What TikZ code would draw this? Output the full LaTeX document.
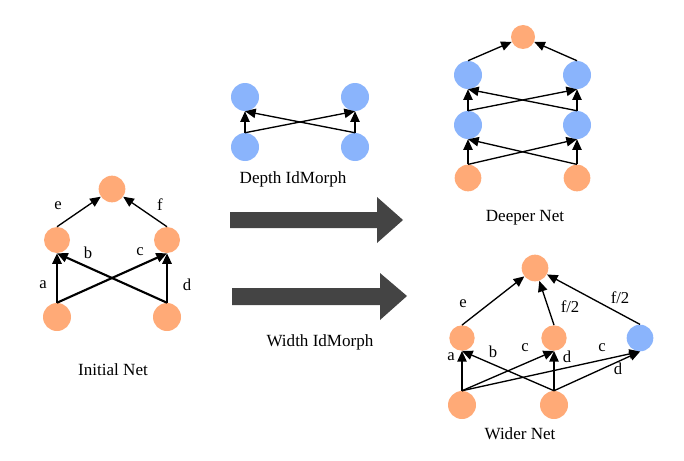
\documentclass[tikz,border=0pt]{standalone}
\usepackage{fontspec}
\setmainfont{Liberation Serif}
\usetikzlibrary{arrows.meta}
\definecolor{nodeor}{HTML}{FFAA77}
\definecolor{nodebl}{HTML}{8AB4FC}
\definecolor{bigarr}{HTML}{444444}
\tikzset{
  orn/.style={circle,fill=nodeor,inner sep=0pt,minimum size=#1},
  orn/.default=20pt,
  bln/.style={circle,fill=nodebl,inner sep=0pt,minimum size=#1},
  bln/.default=21pt,
  edge/.style={draw=black,line width=1pt,-{Triangle[length=8pt,width=7pt]}},
  bedge/.style={draw=black,line width=1.6pt,-{Triangle[length=8pt,width=7pt]}},
  lbl/.style={inner sep=0pt,font=\fontsize{12.5}{14}\selectfont},
  captext/.style={inner sep=0pt,font=\fontsize{12.8}{15}\selectfont},
  bigarrow/.style={fill=bigarr,draw=none}
}
\begin{document}
\begin{tikzpicture}[x=0.75pt,y=-0.75pt]
\useasboundingbox (0,0) rectangle (684,460);
% ---------- Initial Net ----------
\node[orn=20pt] (it) at (112,189) {};
\node[orn=19.5pt] (il) at (57,240) {};
\node[orn=19.5pt] (ir) at (167,240) {};
\node[orn=21pt] (ibl) at (57,317) {};
\node[orn=21pt] (ibr) at (167,317) {};
\draw[bedge] (ibl.north) -- (il.south);
\draw[bedge] (ibl.north) -- (ir.south);
\draw[bedge] (ibr.north) -- (ir.south);
\draw[bedge] (ibr.north) -- (il.south);
\draw[edge] (il.north) -- (it);
\draw[edge] (ir.north) -- (it);
\node[lbl] (la) at (43,285) {a};
\node[lbl] (lb) at (88,253) {b};
\node[lbl] (lc) at (140,252) {c};
\node[lbl] (ld) at (187,285) {d};
\node[lbl] (le) at (58,206) {e};
\node[lbl] (lf) at (160,205) {f};
\node[captext] (cinit) at (113,370) {Initial Net};
% ---------- Depth IdMorph ----------
\node[bln] (dtl) at (245,97) {};
\node[bln] (dtr) at (355,97) {};
\node[bln] (dbl) at (245,147) {};
\node[bln] (dbr) at (355,147) {};
\draw[edge] (dbl.north) -- (dtl.south);
\draw[edge] (dbl.north) -- (dtr.south);
\draw[edge] (dbr.north) -- (dtr.south);
\draw[edge] (dbr.north) -- (dtl.south);
\node[captext] (cdepth) at (293,179) {Depth IdMorph};
% ---------- Big arrows ----------
\path[bigarrow] (230,212) -- (377,212) -- (377,197) -- (403,220) -- (377,243) -- (377,228) -- (230,228) -- cycle;
\path[bigarrow] (232,288) -- (380,288) -- (380,273) -- (407,296) -- (380,320) -- (380,305) -- (232,305) -- cycle;
\node[captext] (cwidth) at (320,342) {Width IdMorph};
% ---------- Deeper Net ----------
\node[orn=18pt] (pt) at (523,37) {};
\node[bln] (p1l) at (468,75) {};
\node[bln] (p1r) at (577,75) {};
\node[bln] (p2l) at (468,125) {};
\node[bln] (p2r) at (577,125) {};
\node[orn] (pbl) at (468,178) {};
\node[orn] (pbr) at (577,178) {};
\draw[edge] (pbl.north) -- (p2l.south);
\draw[edge] (pbl.north) -- (p2r.south);
\draw[edge] (pbr.north) -- (p2r.south);
\draw[edge] (pbr.north) -- (p2l.south);
\draw[edge] (p2l.north) -- (p1l.south);
\draw[edge] (p2l.north) -- (p1r.south);
\draw[edge] (p2r.north) -- (p1r.south);
\draw[edge] (p2r.north) -- (p1l.south);
\draw[edge] (p1l.north) -- (pt);
\draw[edge] (p1r.north) -- (pt);
\node[captext] (cdeep) at (525,218) {Deeper Net};
% ---------- Wider Net ----------
\node[orn] (wt) at (535,268) {};
\node[orn=19pt] (wml) at (462,338) {};
\node[orn=19pt] (wmm) at (554,338) {};
\node[bln=20pt] (wmb) at (640,338) {};
\node[orn=21pt] (wbl) at (462,405) {};
\node[orn=21pt] (wbm) at (554,405) {};
\draw[edge] (wml.north) -- (wt);
\draw[edge] (wmm.north) -- (wt);
\draw[edge] (wmb.north) -- (wt);
\draw[edge] (wbl.north) -- (wml.south);
\draw[edge] (wbl.north) -- (wmm.south);
\draw[edge] (wbl.north) -- (wmb.south);
\draw[edge] (wbm.north) -- (wml.south);
\draw[edge] (wbm.north) -- (wmm.south);
\draw[edge] (wbm.north) -- (wmb.south);
\node[lbl] (we) at (463,304) {e};
\node[lbl] (wf1) at (570,307) {f/2};
\node[lbl] (wf2) at (620,298) {f/2};
\node[lbl] (wa) at (451,357) {a};
\node[lbl] (wb) at (493,352) {b};
\node[lbl] (wc1) at (525,348) {c};
\node[lbl] (wd1) at (567,357) {d};
\node[lbl] (wc2) at (602,348) {c};
\node[lbl] (wd2) at (618,369) {d};
\node[captext] (cwide) at (520,434) {Wider Net};
\end{tikzpicture}
\end{document}
